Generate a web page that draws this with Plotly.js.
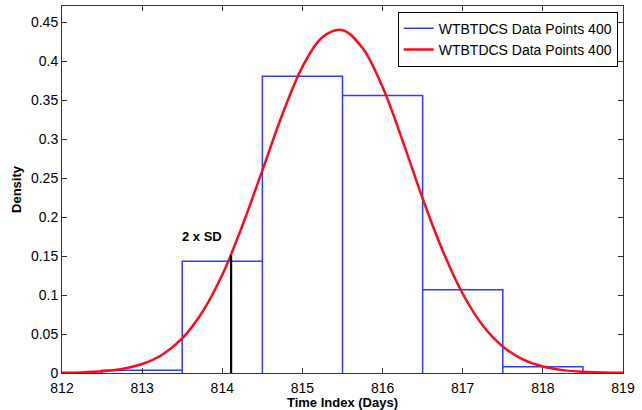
<!DOCTYPE html>
<html>
<head>
<meta charset="utf-8">
<script src="https://cdn.plot.ly/plotly-3.0.1.min.js"></script>
<style>html,body{margin:0;padding:0;background:#fff}#chart{width:642px;height:410px}</style>
</head>
<body>
<div id="chart"></div>
<script>
// Histogram bins (left edges, right edges) and densities
var binLeft   = [812.5, 813.5, 814.5, 815.5, 816.5, 817.5];
var binRight  = [813.5, 814.5, 815.5, 816.5, 817.5, 818.5];
var binDensity = [0.0035, 0.1435, 0.381, 0.356, 0.107, 0.008];

// Fitted density curve
var curveX = [812, 812.25, 812.5, 812.75, 813, 813.25, 813.5, 813.75, 814, 814.25, 814.5, 814.75,
              815, 815.25, 815.5, 815.75, 816, 816.25, 816.5, 816.75, 817, 817.25, 817.5, 817.75,
              818, 818.25, 818.5, 818.75, 819];
var curveY = [0.0003, 0.0008, 0.0022, 0.0052, 0.0115, 0.0235, 0.0445, 0.078, 0.126, 0.189, 0.260, 0.332,
              0.393, 0.431, 0.440, 0.417, 0.367, 0.298, 0.224, 0.157, 0.1017, 0.061, 0.034, 0.0174,
              0.0083, 0.0037, 0.0015, 0.0006, 0.0002];

// 2 x SD marker
var sdX = [814.11, 814.11];
var sdY = [0, 0.151];
var seriesName = 'WTBTDCS Data Points 400';

var hx = [], hy = [];
for (var i = 0; i < binLeft.length; i++) {
  hx.push(binLeft[i], binLeft[i], binRight[i], binRight[i]);
  hy.push(0, binDensity[i], binDensity[i], 0);
}

var traces = [
  {x: hx, y: hy, type: 'scatter', mode: 'lines', name: seriesName,
   line: {color: '#2a3cff', width: 1.5}},
  {x: curveX, y: curveY, type: 'scatter', mode: 'lines', name: seriesName,
   line: {color: '#ff0a1a', width: 2.5, shape: 'spline'}},
  {x: sdX, y: sdY, type: 'scatter', mode: 'lines', showlegend: false,
   line: {color: '#000', width: 2.2}}
];

var axisCommon = {
  showgrid: false, zeroline: false, showline: true, linecolor: '#333', linewidth: 1,
  mirror: 'ticks', ticks: 'inside', ticklen: 5, tickcolor: '#333',
  tickfont: {family: 'Liberation Sans, Arial, sans-serif', size: 14, color: '#000'}
};

var layout = {
  width: 642, height: 410,
  margin: {l: 62, r: 19, t: 6, b: 37},
  paper_bgcolor: '#fff', plot_bgcolor: '#fff',
  font: {family: 'Liberation Sans, Arial, sans-serif', color: '#000'},
  xaxis: Object.assign({}, axisCommon, {
    range: [812, 819], dtick: 1, tick0: 812, ticklabelstandoff: 2,
    title: {text: '<b>Time Index (Days)</b>', font: {size: 13}, standoff: 3}
  }),
  yaxis: Object.assign({}, axisCommon, {
    range: [0, 0.471], dtick: 0.05, tick0: 0,
    title: {text: '<b>Density</b>', font: {size: 13}, standoff: 6}
  }),
  legend: {
    x: 0.9906, y: 0.9845, xanchor: 'right', yanchor: 'top',
    bgcolor: '#fff', bordercolor: '#000', borderwidth: 1,
    font: {size: 14, family: 'Liberation Sans, Arial, sans-serif'},
    tracegroupgap: 0
  },
  annotations: [
    {x: 813.75, y: 0.1756, xref: 'x', yref: 'y', text: '<b>2 x SD</b>', showarrow: false,
     font: {size: 13, color: '#000'}}
  ],
  showlegend: true
};

Plotly.newPlot('chart', traces, layout, {displayModeBar: false, staticPlot: true});
</script>
</body>
</html>
